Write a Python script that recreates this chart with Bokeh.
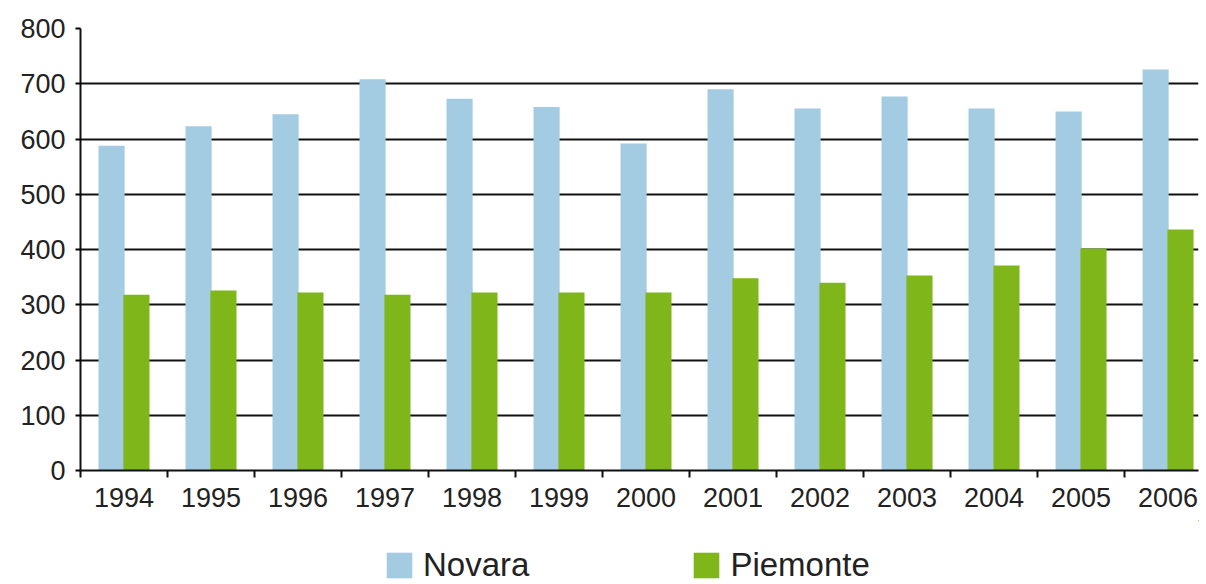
from bokeh.plotting import figure
from bokeh.layouts import column
from bokeh.models import FixedTicker, Legend, LegendItem, Range1d, ColumnDataSource
from bokeh.transform import dodge
from bokeh.embed import file_html
from bokeh.resources import INLINE

years = ["1994", "1995", "1996", "1997", "1998", "1999", "2000",
         "2001", "2002", "2003", "2004", "2005", "2006"]
novara = [588, 623, 645, 708, 673, 658, 592, 690, 655, 677, 655, 650, 726]
piemonte = [318, 326, 322, 318, 322, 322, 322, 348, 340, 353, 371, 402, 436]
y_ticks = [0, 100, 200, 300, 400, 500, 600, 700, 800]
series_names = ["Novara", "Piemonte"]
series_cols = ["novara", "piemonte"]
series_colors = ["#a3cbe1", "#7fb61a"]

pos = [i + 0.5 for i in range(len(years))]
src = ColumnDataSource(dict(x=pos, novara=novara, piemonte=piemonte))

FONT = "Liberation Sans"
TXT = "#222222"

p = figure(width=1206, height=520,
           x_range=Range1d(0, 12.85), y_range=Range1d(0, 800),
           output_backend="svg", toolbar_location=None,
           min_border_left=80, min_border_right=8, min_border_top=28,
           min_border_bottom=50, background_fill_color="white",
           border_fill_color="white")
p.outline_line_color = None

p.vbar(x=dodge("x", -0.143, range=p.x_range), top="novara", width=0.3,
       source=src, fill_color=series_colors[0], line_color=None)
p.vbar(x=dodge("x", 0.143, range=p.x_range), top="piemonte", width=0.3,
       source=src, fill_color=series_colors[1], line_color=None)

# grid
p.xgrid.visible = False
p.ygrid.ticker = FixedTicker(ticks=y_ticks)
p.ygrid.grid_line_color = "#111111"
p.ygrid.grid_line_width = 2

# y axis
p.yaxis.ticker = FixedTicker(ticks=y_ticks)
p.yaxis.axis_line_color = "#111111"
p.yaxis.axis_line_width = 2
p.yaxis.major_tick_in = 0
p.yaxis.major_tick_out = 5
p.yaxis.major_tick_line_width = 2
p.yaxis.minor_tick_line_color = None
p.yaxis.major_label_text_font = FONT
p.yaxis.major_label_text_font_size = "27px"
p.yaxis.major_label_text_color = TXT
p.yaxis.major_label_standoff = 10

# x axis: labels at centres, tick marks at boundaries
p.xaxis.ticker = FixedTicker(ticks=pos, minor_ticks=list(range(len(years))))
p.xaxis.major_label_overrides = {v: y for v, y in zip(pos, years)}
p.xaxis.axis_line_color = "#111111"
p.xaxis.axis_line_width = 2
p.xaxis.major_tick_line_color = None
p.xaxis.minor_tick_in = 0
p.xaxis.minor_tick_out = 7
p.xaxis.minor_tick_line_color = "#111111"
p.xaxis.minor_tick_line_width = 2
p.xaxis.major_label_text_font = FONT
p.xaxis.major_label_text_font_size = "27px"
p.xaxis.major_label_text_color = TXT
p.xaxis.major_label_standoff = 10

# legend strip below the chart (its ranges keep the proxy bars out of view)
p2 = figure(width=1206, height=64, x_range=Range1d(-20, -19),
            y_range=Range1d(-20, -19),
            output_backend="svg", toolbar_location=None,
            x_axis_location=None, y_axis_location=None,
            min_border_left=0, min_border_right=0, min_border_top=0,
            min_border_bottom=0, background_fill_color="white",
            border_fill_color="white")
p2.outline_line_color = None
p2.grid.visible = False
items = []
for name, colname, col in zip(series_names, series_cols, series_colors):
    r = p2.vbar(x="x", top=colname, width=0.3, source=src,
                fill_color=col, line_color=None)
    items.append(LegendItem(label=name, renderers=[r]))

legend = Legend(items=items, orientation="horizontal", location=(303, 0),
                glyph_width=32, glyph_height=32, label_standoff=8,
                spacing=161, padding=0, margin=0, label_height=32,
                label_text_font=FONT, label_text_font_size="33px",
                label_text_color=TXT, border_line_color=None,
                background_fill_alpha=0)
p2.add_layout(legend, "center")

layout = column(p, p2, spacing=0)
open("out.html", "w").write(file_html(layout, INLINE))
